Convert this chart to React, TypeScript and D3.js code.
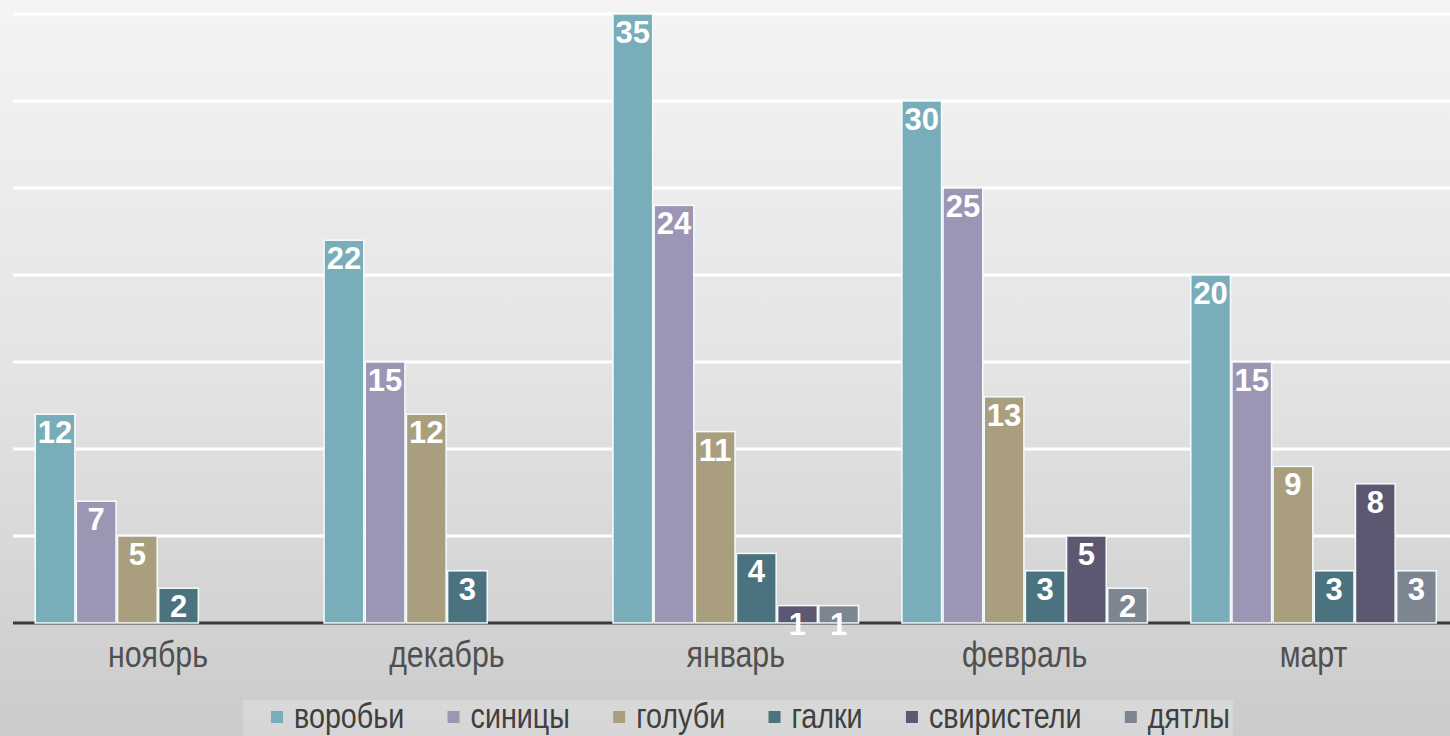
import React from "react";
import * as d3 from "d3";

const categories = ["ноябрь", "декабрь", "январь", "февраль", "март"];
const seriesNames = ["воробьи", "синицы", "голуби", "галки", "свиристели", "дятлы"];
const vorobyi = [12, 22, 35, 30, 20];
const sinitsy = [7, 15, 24, 25, 15];
const golubi = [5, 12, 11, 13, 9];
const galki = [2, 3, 4, 3, 3];
const sviristeli = [0, 0, 1, 5, 8];
const dyatly = [0, 0, 1, 2, 3];
const seriesValues = [vorobyi, sinitsy, golubi, galki, sviristeli, dyatly];
const colors = ["#78adb9", "#9b96b3", "#a99f7e", "#4a727f", "#5d5871", "#7d8591"];
const yTicks = [5, 10, 15, 20, 25, 30, 35];

const W = 1450;
const H = 736;
const FONT = "'Liberation Sans', Arial, sans-serif";
const TEXT_SIZE = 37;
const LEGEND_SIZE = 35;
const SQUEEZE = 0.82;

function measure(text: string, size: number): number {
  if (typeof document === "undefined") return text.length * size * 0.55;
  const c = document.createElement("canvas");
  const ctx = c.getContext("2d");
  if (!ctx) return text.length * size * 0.55;
  ctx.font = `${size}px 'Liberation Sans', Arial, sans-serif`;
  return ctx.measureText(text).width;
}

export default function App() {
  const catW = 288.9;
  const x0 = 13.5;
  const x = d3.scaleBand<string>().domain(categories).range([x0, x0 + catW * categories.length]).padding(0);
  const xi = d3.scaleBand<string>().domain(seriesNames).range([0, catW]).paddingInner(0).paddingOuter(0.509);
  const y = d3.scaleLinear().domain([0, 35]).range([623, 14]);

  // legend layout
  const markerSize = 12;
  const markerGap = 11;
  const widths = seriesNames.map((s) => measure(s, LEGEND_SIZE) * SQUEEZE);
  const legendStart = 271;
  const legendEnd = 1230;
  const fixed = widths.reduce((a, b) => a + b, 0) + seriesNames.length * (markerSize + markerGap);
  const itemGap = (legendEnd - legendStart - fixed) / (seriesNames.length - 1);
  let cursor = legendStart;
  const legendItems = seriesNames.map((s, i) => {
    const item = { name: s, x: cursor, color: colors[i] };
    cursor += markerSize + markerGap + widths[i] + itemGap;
    return item;
  });

  return (
    <svg width={W} height={H} style={{ position: "fixed", left: 0, top: 0 }} fontFamily={FONT}>
      <defs>
        <linearGradient id="bg" x1="0" y1="0" x2="0" y2="1">
          <stop offset="0" stopColor="#f4f4f4" />
          <stop offset="0.5" stopColor="#e4e4e4" />
          <stop offset="1" stopColor="#cbcbcb" />
        </linearGradient>
      </defs>
      <rect x={0} y={0} width={W} height={H} fill="url(#bg)" />
      {yTicks.map((t) => (
        <line key={t} x1={13} x2={W} y1={y(t)} y2={y(t)} stroke="#ffffff" strokeWidth={3} />
      ))}
      <line x1={13} x2={W} y1={y(0)} y2={y(0)} stroke="#3a3a3a" strokeWidth={3} />
      {categories.map((c, ci) => (
        <g key={c} transform={`translate(${x(c)},0)`}>
          {seriesNames.map((s, si) => {
            const v = seriesValues[si][ci];
            if (!v) return null;
            const bx = xi(s) as number;
            const bw = xi.bandwidth();
            return (
              <g key={s}>
                <rect
                  x={bx + 0.75}
                  y={y(v)}
                  width={bw - 1.5}
                  height={y(0) - y(v)}
                  fill={colors[si]}
                  stroke="#f4fbfd"
                  strokeWidth={1.5}
                />
                <text
                  x={bx + bw / 2}
                  y={y(v) + 29}
                  textAnchor="middle"
                  fill="#ffffff"
                  fontWeight="bold"
                  fontSize={31}
                >
                  {v}
                </text>
              </g>
            );
          })}
          <text
            transform={`translate(${x.bandwidth() / 2},667) scale(${SQUEEZE},1)`}
            textAnchor="middle"
            fill="#505050"
            fontSize={TEXT_SIZE}
          >
            {c}
          </text>
        </g>
      ))}
      <rect x={243} y={700} width={990} height={36} fill="#ffffff" opacity={0.22} />
      {legendItems.map((it) => (
        <g key={it.name} transform={`translate(${it.x},0)`}>
          <rect x={0} y={711} width={markerSize} height={markerSize} fill={it.color} />
          <text
            transform={`translate(${markerSize + markerGap},728) scale(${SQUEEZE},1)`}
            fill="#404040"
            fontSize={LEGEND_SIZE}
          >
            {it.name}
          </text>
        </g>
      ))}
    </svg>
  );
}
